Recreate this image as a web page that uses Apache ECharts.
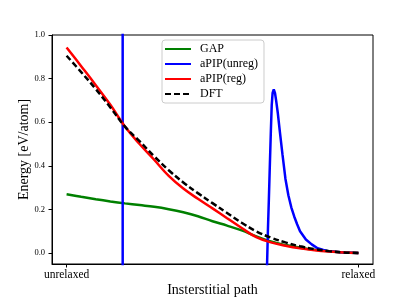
<!DOCTYPE html>
<html>
<head>
<meta charset="utf-8">
<script src="https://cdn.jsdelivr.net/npm/echarts@6/dist/echarts.min.js"></script>
<style>html,body{margin:0;padding:0;background:#fff}#c{width:415px;height:297px}</style>
</head>
<body>
<div id="c"></div>
<script>
// ---- data ----
const pathX = [0, 0.05, 0.1, 0.15, 0.2, 0.25, 0.3, 0.35, 0.4, 0.45, 0.5, 0.55, 0.6, 0.65, 0.7, 0.75, 0.8, 0.85, 0.9, 0.95, 1.0];
const gapE  = [0.270, 0.258, 0.247, 0.237, 0.228, 0.220, 0.212, 0.201, 0.187, 0.169, 0.146, 0.126, 0.104, 0.077, 0.053, 0.037, 0.025, 0.015, 0.008, 0.003, 0.001];
const regE  = [0.943, 0.857, 0.770, 0.680, 0.580, 0.500, 0.428, 0.354, 0.296, 0.249, 0.205, 0.160, 0.115, 0.073, 0.049, 0.034, 0.022, 0.013, 0.007, 0.003, 0.001];
const dftE  = [0.905, 0.830, 0.752, 0.668, 0.580, 0.513, 0.444, 0.380, 0.324, 0.275, 0.229, 0.184, 0.139, 0.100, 0.071, 0.049, 0.031, 0.018, 0.009, 0.003, 0.001];
const unregX = [0, 0.192, 0.1925, 0.6, 0.683, 0.687, 0.690, 0.693, 0.696, 0.700, 0.703, 0.706, 0.710, 0.714, 0.718, 0.724, 0.730, 0.740, 0.750, 0.760, 0.770, 0.780, 0.790, 0.800, 0.820, 0.840, 0.860, 0.880, 0.900, 0.950, 1.0];
const unregE = [3.0, 3.0, -3.0, -3.0, -0.30, -0.05, 0.11, 0.24, 0.38, 0.56, 0.68, 0.735, 0.750, 0.735, 0.700, 0.640, 0.566, 0.450, 0.340, 0.265, 0.210, 0.168, 0.132, 0.100, 0.062, 0.040, 0.022, 0.014, 0.008, 0.003, 0.001];
const yTicks = [0, 0.2, 0.4, 0.6, 0.8, 1.0];
const xTicks = [0, 1];
const xTickLabels = ['unrelaxed', 'relaxed'];
const seriesNames = ['GAP', 'aPIP(unreg)', 'aPIP(reg)', 'DFT'];

const pair = (xs, ys) => xs.map((x, i) => [x, ys[i]]);
const FONT = 'Liberation Serif';

const chart = echarts.init(document.getElementById('c'), null, {renderer: 'canvas'});
chart.setOption({
  animation: false,
  backgroundColor: '#fff',
  textStyle: {fontFamily: FONT, color: '#000'},
  grid: {left: 52, right: 42, top: 35, bottom: 33, containLabel: false, outerBoundsMode: 'none',
    show: true, borderColor: '#000', borderWidth: 1, backgroundColor: 'transparent'},
  legend: {
    orient: 'vertical', left: 162, top: 40,
    padding: [3, 6, 3, 2],
    itemWidth: 26, itemHeight: 14, itemGap: 3,
    borderColor: '#cccccc', borderWidth: 1, borderRadius: 3,
    backgroundColor: '#fff',
    itemStyle: {opacity: 0, borderWidth: 0},
    textStyle: {fontFamily: FONT, fontSize: 12, color: '#000', padding: [0, 0, 0, 4]},
    data: seriesNames
  },
  xAxis: {
    type: 'value', min: -0.05, max: 1.05,
    axisLine: {show: true, onZero: false, lineStyle: {color: '#000', width: 1}},
    axisTick: {show: true, length: 3.5, lineStyle: {color: '#000'}, customValues: xTicks},
    axisLabel: {show: true, customValues: xTicks, margin: 5, fontFamily: FONT, fontSize: 11.5, color: '#000',
      formatter: v => { const i = xTicks.indexOf(v); return i >= 0 ? xTickLabels[i] : ''; }},
    splitLine: {show: false},
    name: 'Insterstitial path', nameLocation: 'middle', nameGap: 19, nameMoveOverlap: false,
    nameTextStyle: {fontFamily: FONT, fontSize: 14, color: '#000', verticalAlign: 'top'}
  },
  yAxis: {
    type: 'value', min: -0.05, max: 1.0,
    axisLine: {show: true, onZero: false, lineStyle: {color: '#000', width: 1}},
    axisTick: {show: true, length: 3.5, lineStyle: {color: '#000'}, customValues: yTicks},
    axisLabel: {show: true, customValues: yTicks, margin: 7, fontFamily: FONT, fontSize: 8.5, color: '#000',
      formatter: v => v.toFixed(1)},
    splitLine: {show: false},
    name: 'Energy [eV/atom]', nameLocation: 'middle', nameGap: 21, nameMoveOverlap: false,
    nameTextStyle: {fontFamily: FONT, fontSize: 14, color: '#000'}
  },
  series: [
    {name: seriesNames[0], type: 'line', data: pair(pathX, gapE), symbol: 'none', smooth: 0.4,
      lineStyle: {color: '#008000', width: 2.5}, itemStyle: {color: '#008000'}},
    {name: seriesNames[1], type: 'line', data: pair(unregX, unregE), symbol: 'none', smooth: false, clip: true,
      lineStyle: {color: '#0000ff', width: 2.5}, itemStyle: {color: '#0000ff'}},
    {name: seriesNames[2], type: 'line', data: pair(pathX, regE), symbol: 'none', smooth: 0.4,
      lineStyle: {color: '#ff0000', width: 2.5}, itemStyle: {color: '#ff0000'}},
    {name: seriesNames[3], type: 'line', data: pair(pathX, dftE), symbol: 'none', smooth: 0.4,
      lineStyle: {color: '#000000', width: 2.5, type: [6, 3]}, itemStyle: {color: '#000000'}}
  ]
});
</script>
</body>
</html>
